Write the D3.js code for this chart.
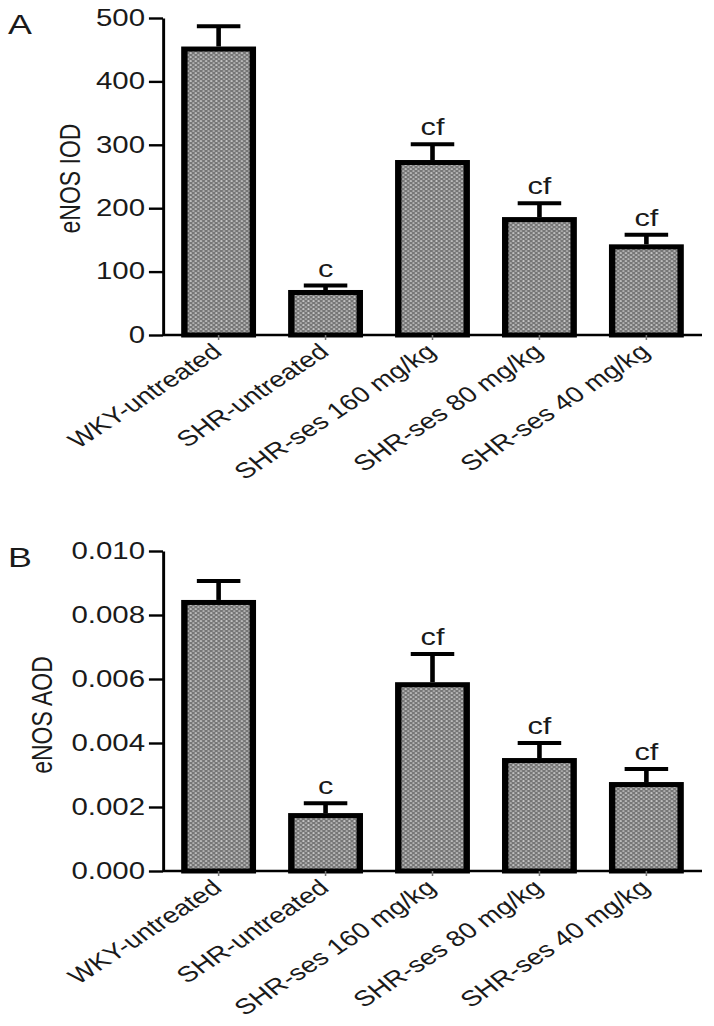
<!DOCTYPE html>
<html>
<head>
<meta charset="utf-8">
<script src="https://cdn.jsdelivr.net/npm/d3@7"></script>
<style>
  html, body { margin: 0; padding: 0; background: #fff; }
  text { font-family: "Liberation Sans", Arial, Helvetica, sans-serif; fill: #1a1a1a; }
</style>
</head>
<body>
<svg id="chart" width="714" height="1026"></svg>
<script>
// ---------- data ----------
const categories = ["WKY-untreated", "SHR-untreated", "SHR-ses 160 mg/kg", "SHR-ses 80 mg/kg", "SHR-ses 40 mg/kg"];
const iodMean = [455, 71, 276, 186, 143];
const iodSEM  = [32, 7, 25, 22, 15];
const iodSig  = ["", "c", "cf", "cf", "cf"];
const iodTicks = [0, 100, 200, 300, 400, 500];

const aodMean = [0.00847, 0.00181, 0.00590, 0.00353, 0.00278];
const aodSEM  = [0.00059, 0.00031, 0.00088, 0.00047, 0.00041];
const aodSig  = ["", "c", "cf", "cf", "cf"];
const aodTicks = [0, 0.002, 0.004, 0.006, 0.008, 0.010];

// ---------- layout ----------
const k = 1.28; // horizontal stretch of the original figure
const svg = d3.select("#chart");
const root = svg.append("g").attr("transform", `scale(${k},1)`);

// pattern fill
const defs = svg.append("defs");
const pat = defs.append("pattern").attr("id", "dots")
  .attr("patternUnits", "userSpaceOnUse").attr("width", 4).attr("height", 4);
pat.append("rect").attr("width", 4).attr("height", 4).attr("fill", "#767676");
pat.append("circle").attr("cx", 1).attr("cy", 1).attr("r", 0.85).attr("fill", "#e4e4e4");
pat.append("circle").attr("cx", 3).attr("cy", 3).attr("r", 0.85).attr("fill", "#c8c8c8");

const axisLeftX = 163 / k, axisRightX = 702 / k;

function panel(cfg) {
  const g = root.append("g");
  const y = d3.scaleLinear().domain([0, cfg.max]).range([cfg.y0, cfg.y1]);
  const x = d3.scaleBand().domain(categories).range([axisLeftX, axisRightX])
    .paddingInner(0.3).paddingOuter(0.17);
  const bw = x.bandwidth();
  const sw = 5;

  // bars
  g.selectAll("rect.bar").data(categories).join("rect")
    .attr("class", "bar")
    .attr("x", d => x(d) + sw / 2)
    .attr("width", bw - sw)
    .attr("y", (d, i) => y(cfg.mean[i]) + sw / 2)
    .attr("height", (d, i) => y(0) - y(cfg.mean[i]) - sw / 2)
    .attr("fill", "url(#dots)")
    .attr("stroke", "#000")
    .attr("stroke-width", sw);

  // error bars (upper only)
  const cx = d => x(d) + bw / 2;
  g.selectAll("line.stem").data(categories).join("line")
    .attr("x1", cx).attr("x2", cx)
    .attr("y1", (d, i) => y(cfg.mean[i]))
    .attr("y2", (d, i) => y(cfg.mean[i] + cfg.sem[i]))
    .attr("stroke", "#000").attr("stroke-width", 3.6);
  g.selectAll("line.cap").data(categories).join("line")
    .attr("x1", d => cx(d) - 17).attr("x2", d => cx(d) + 17)
    .attr("y1", (d, i) => y(cfg.mean[i] + cfg.sem[i]))
    .attr("y2", (d, i) => y(cfg.mean[i] + cfg.sem[i]))
    .attr("stroke", "#000").attr("stroke-width", 4);

  // significance letters
  g.selectAll("text.sig").data(categories).join("text")
    .attr("class", "sig")
    .attr("x", cx)
    .attr("y", (d, i) => y(cfg.mean[i] + cfg.sem[i]) - 9)
    .attr("text-anchor", "middle")
    .attr("font-size", 24)
    .text((d, i) => cfg.sig[i]);

  // y axis
  const ya = g.append("g").attr("transform", `translate(${axisLeftX},0)`)
    .call(d3.axisLeft(y).tickValues(cfg.ticks).tickFormat(cfg.fmt)
      .tickSize(11).tickSizeOuter(0).tickPadding(3));
  ya.select(".domain").attr("stroke", "#000").attr("stroke-width", 2.3);
  ya.selectAll(".tick line").attr("stroke", "#000").attr("stroke-width", 2.4);
  ya.selectAll(".tick text").attr("font-size", 23).attr("fill", "#1a1a1a")
    .attr("font-family", '"Liberation Sans", Arial, sans-serif');

  // x axis line
  g.append("line").attr("x1", axisLeftX).attr("x2", axisRightX)
    .attr("y1", y(0)).attr("y2", y(0))
    .attr("stroke", "#000").attr("stroke-width", 2.5);
  g.selectAll("line.xt").data(categories).join("line")
    .attr("x1", cx).attr("x2", cx)
    .attr("y1", y(0)).attr("y2", y(0) + 5)
    .attr("stroke", "#777").attr("stroke-width", 1.2);

  // x labels
  g.selectAll("text.xl").data(categories).join("text")
    .attr("class", "xl")
    .attr("transform", d => `translate(${cx(d) + 5 / k},${y(0) + 19}) rotate(-40)`)
    .attr("text-anchor", "end")
    .attr("font-size", 22)
    .text(d => d);

  // y label
  g.append("text")
    .attr("transform", `translate(${cfg.labelX / k},${(cfg.y0 + cfg.y1) / 2 + cfg.labelDy}) rotate(-90)`)
    .attr("text-anchor", "middle")
    .attr("font-size", 23)
    .text(cfg.ylabel);

  // panel letter
  g.append("text").attr("x", 8 / k).attr("y", cfg.letterY)
    .attr("font-size", 28).text(cfg.letter);
}

panel({ mean: iodMean, sem: iodSEM, sig: iodSig, ticks: iodTicks, max: 500,
  y0: 335, y1: 18, fmt: d3.format("d"), ylabel: "eNOS IOD", labelX: 80, labelDy: 2,
  letter: "A", letterY: 34 });
panel({ mean: aodMean, sem: aodSEM, sig: aodSig, ticks: aodTicks, max: 0.010,
  y0: 871, y1: 551, fmt: d3.format(".3f"), ylabel: "eNOS AOD", labelX: 52, labelDy: 4,
  letter: "B", letterY: 567 });
</script>
</body>
</html>
